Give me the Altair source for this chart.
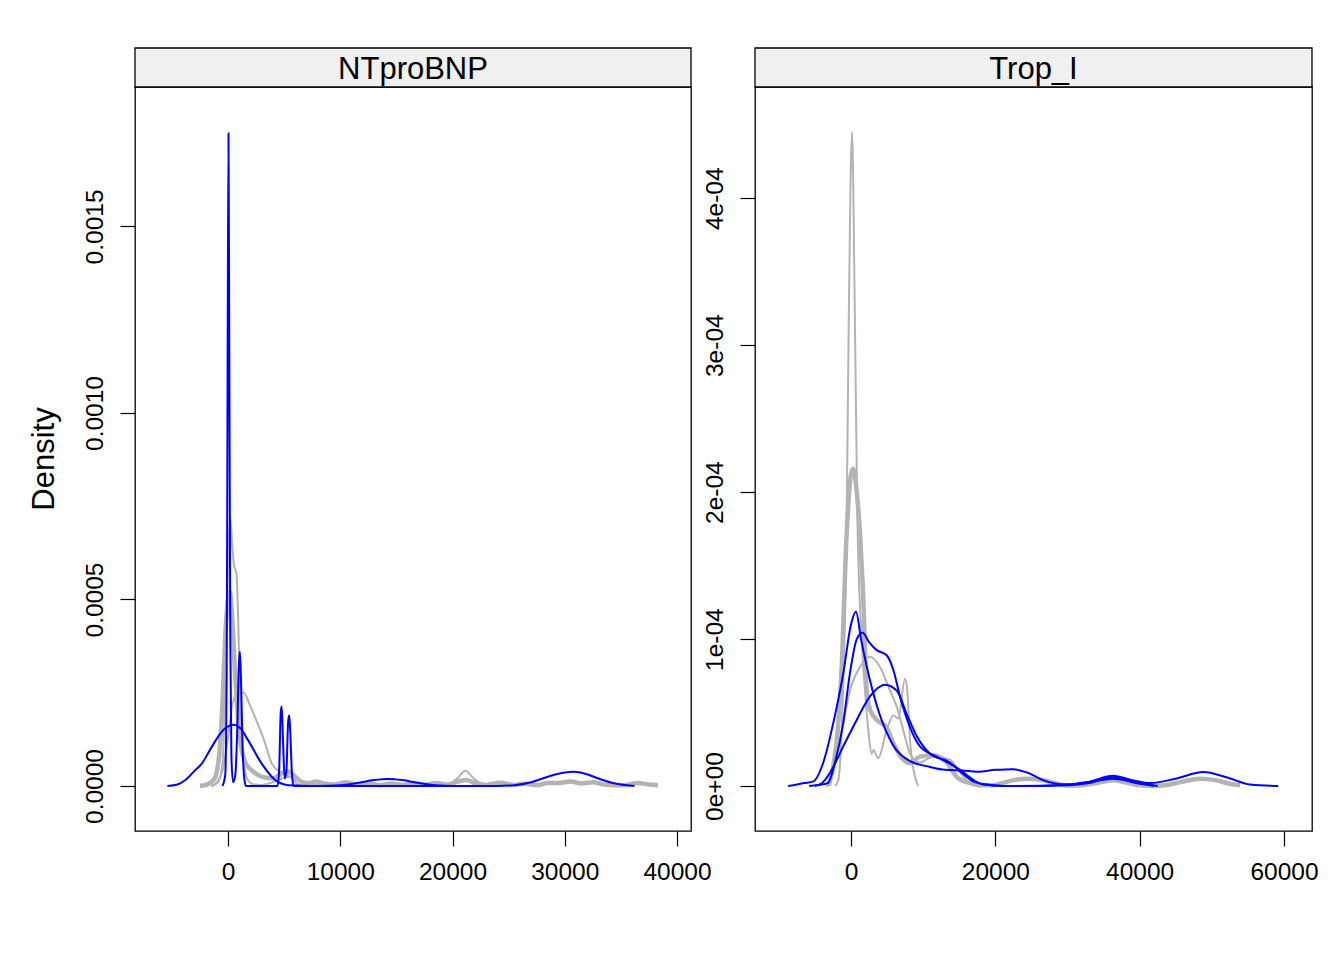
import altair as alt
import pandas as pd

PANELS = ["NTproBNP", "Trop_I"]
Y_TITLE = "Density"

# ---------------- NTproBNP panel ----------------
NT_XTICKS = [0, 10000, 20000, 30000, 40000]
NT_YTICKS = [0.0, 0.0005, 0.0010, 0.0015]
NT_YLABELS = ["0.0000", "0.0005", "0.0010", "0.0015"]

# observed (thick gray)
NT_OBS_X = [-2500, -1800, -1200, -800, -500, -250, 0, 150, 350, 600, 900, 1200, 1600, 2200, 3000,
            4000, 4600, 5200, 5800, 6500, 7200, 7800, 8600, 9500, 10500, 11500, 12500, 13500, 14500,
            15500, 16500, 17500, 18500, 19500, 20500, 21200, 22000, 23000, 24200, 25500, 26500,
            27500, 28500, 29500, 30500, 31500, 32500, 33500, 34500, 35500, 36500, 37500, 38300]
NT_OBS_Y = [0.0, 0.000005, 0.00002, 0.00008, 0.00022, 0.0004, 0.0005, 0.00052, 0.00046, 0.00032,
            0.00018, 0.0001, 0.00006, 0.00004, 0.000025, 0.00002, 0.00003, 0.00004, 0.00003,
            0.000012, 0.000008, 0.000012, 0.000006, 0.000004, 0.00001, 0.000004, 0.000008,
            0.000002, 0.000007, 0.000003, 0.000008, 0.000003, 0.000008, 0.000004, 0.000012,
            0.000016, 0.000008, 0.000003, 0.000009, 0.000003, 0.000006, 0.000002, 0.000008,
            0.000008, 0.000012, 0.000007, 0.00001, 0.000004, 0.000002, 0.000003, 0.000008,
            0.000004, 0.000002]

# imputed (thin gray)
NT_G1_X = [-1500, -900, -500, -250, 0, 200, 380, 550, 750, 900, 1100, 1350, 1700, 2200, 3000,
           4000, 4800, 5500, 6200, 7000]
NT_G1_Y = [0.0, 0.00001, 0.00006, 0.00025, 0.00058, 0.00072, 0.00064, 0.00059, 0.00057, 0.00045,
           0.00022, 0.00008, 0.00002, 0.000005, 0.000003, 0.00001, 0.00002, 0.000025, 0.000005, 0.0]
NT_G2_X = [-1500, -1000, -500, 0, 400, 900, 1400, 1900, 2400, 3300, 3900, 4800, 5500, 6500, 7500,
           9000, 12000, 15000, 18000, 19600, 20400, 21150, 21900, 22700, 23600]
NT_G2_Y = [0.0, 0.00001, 0.00004, 0.00013, 0.00022, 0.00025, 0.00025, 0.00022, 0.000185, 0.000115,
           0.00006, 0.000035, 0.000025, 0.00001, 0.000004, 0.000001, 0.0, 0.000002, 0.000001,
           0.000005, 0.00002, 0.000041, 0.00002, 0.000004, 0.0]

# imputed (blue)
NT_B1_X = [-500, -250, -120, -40, 40, 110, 200, 300, 450, 650, 820, 960, 1060, 1160, 1300, 1450,
           1600, 4400, 4550, 4700, 4780, 4900, 5050, 5200, 5350, 5450, 5550, 5700, 5850, 23700]
NT_B1_Y = [0.0, 0.00003, 0.0003, 0.0011, 0.00175, 0.0012, 0.0004, 0.00008, 0.00001, 0.00003,
           0.00015, 0.00032, 0.00036, 0.00028, 0.0001, 0.00002, 0.0, 0.0, 0.00004, 0.0002,
           0.000213, 0.00012, 0.00002, 0.00004, 0.00017, 0.00019, 0.00014, 0.00003, 0.0, 0.0]
NT_B2_X = [-5400, -4500, -3800, -3000, -2340, -1450, -420, 500, 1100, 1780, 3000, 4200, 5200,
           6500, 8000, 10000, 11500, 13000, 14300, 15500, 17000, 18500, 20000, 24000, 25500, 27000,
           28500, 30000, 30800, 31800, 33000, 34300, 35500, 36200]
NT_B2_Y = [0.0, 0.000004, 0.000016, 0.00004, 0.00006, 0.000105, 0.00015, 0.000164, 0.000155,
           0.000123, 0.00006, 0.000016, 0.000003, 0.000001, 0.0, 0.000002, 0.000008, 0.000016,
           0.000019, 0.000016, 0.000008, 0.000002, 0.0, 0.0, 0.000002, 0.00001, 0.000025,
           0.000036, 0.000038, 0.000033, 0.00002, 0.000008, 0.000002, 0.0]

# ---------------- Trop_I panel ----------------
TI_XTICKS = [0, 20000, 40000, 60000]
TI_YTICKS = [0.0, 0.0001, 0.0002, 0.0003, 0.0004]
TI_YLABELS = ["0e+00", "1e-04", "2e-04", "3e-04", "4e-04"]

TI_OBS_X = [-3400, -2600, -1800, -1290, -600, 0, 320, 800, 1250, 1660, 2170, 2630, 3560, 4940,
            5870, 7250, 8180, 9560, 11400, 13260, 14650, 16500, 18000, 19700, 21000, 22500, 24400,
            26000, 27500, 29000, 30500, 32000, 34000, 36300, 38000, 40000, 41500, 43500, 45500,
            48400, 50500, 52500, 53900]
TI_OBS_Y = [0.0, 0.00001, 0.00004, 0.000081, 0.000172, 0.000212, 0.000216, 0.0002, 0.000172,
            0.000133, 0.000065, 0.000052, 0.000045, 0.00004, 0.000029, 0.000018, 0.0000155,
            0.00002, 0.000021, 0.000016, 0.0000063, 0.000002, 0.0000005, 0.0000005, 0.000002,
            0.000004, 0.000005, 0.0000045, 0.000003, 0.000001, 0.0000002, 0.0000005, 0.000002,
            0.000004, 0.0000025, 0.0000005, 0.0000001, 0.0000005, 0.0000025, 0.000005, 0.000004,
            0.0000015, 0.0000005]

TI_G1_X = [-2200, -1760, -1200, -600, -280, 140, 510, 880, 1480, 1940, 2400, 2860, 3100, 3790,
           4940, 5870, 6560, 7480, 7800, 8180, 8870, 9330]
TI_G1_Y = [0.0, 0.000004, 0.00005, 0.000183, 0.00033, 0.000445, 0.00033, 0.000183, 0.0001,
           0.000065, 0.000038, 0.000022, 0.0000245, 0.000019, 0.000038, 0.000048, 0.000046,
           0.000073, 0.000065, 0.000031, 0.0000063, 0.0]
TI_G2_X = [-2900, -2000, -1070, -140, 1250, 2630, 4020, 5400, 6330, 7250, 8180, 9560, 10800,
           11880, 13720, 15000, 16000, 17000]
TI_G2_Y = [0.0, 0.00002, 0.000043, 0.000065, 0.000081, 0.000088, 0.000081, 0.000065, 0.000054,
           0.000038, 0.000022, 0.000016, 0.000019, 0.00002, 0.000018, 0.00001, 0.000004, 0.0]

TI_B1_X = [-8700, -7500, -6500, -5260, -3840, -2450, -1060, 0, 693, 1390, 2630, 4020, 5820, 8180,
           10950, 13000, 15500, 17500, 20000, 22450, 24500, 26600, 29900, 33000, 36300, 39000,
           41400, 45000, 48800, 52000, 55300, 59200]
TI_B1_Y = [0.0, 0.000001, 0.000002, 0.000003, 0.000016, 0.000043, 0.000077, 0.00011, 0.0001186,
           0.0001, 0.000072, 0.000048, 0.000028, 0.000017, 0.000013, 0.000011, 0.0000105,
           0.0000098, 0.000011, 0.0000115, 0.000009, 0.000004, 0.000001, 0.000003, 0.000007,
           0.000004, 0.000002, 0.000005, 0.0000095, 0.000006, 0.000001, 0.0]
TI_B2_X = [-5800, -4750, -3190, -2220, -1070, -140, 800, 1620, 2500, 3560, 4940, 5870, 6790, 8180,
           9560, 11880, 15100, 17000, 18300, 21000, 26000, 30000, 33500, 36300, 39000, 42500]
TI_B2_Y = [0.0, 0.0000005, 0.000002, 0.000016, 0.000043, 0.000077, 0.0001, 0.0001043, 0.000098,
           0.0000925, 0.000089, 0.000079, 0.000061, 0.00004, 0.000027, 0.00002, 0.000011,
           0.000004, 0.000001, 0.0, 0.0, 0.000001, 0.000003, 0.000005, 0.000003, 0.0]
TI_B3_X = [-5000, -4000, -2910, -1070, 790, 2630, 4710, 6330, 7720, 9100, 10950, 13720, 15100,
           17000, 19000, 21000, 30000, 33000, 36300, 39500, 42000]
TI_B3_Y = [0.0, 0.000002, 0.000009, 0.000027, 0.000045, 0.000061, 0.000069, 0.000065, 0.000049,
           0.000034, 0.000022, 0.000016, 0.00001, 0.000003, 0.000001, 0.0, 0.0000005, 0.000002,
           0.000006, 0.000002, 0.0]

GRAY = "#B3B3B3"
BLUE = "#0000FF"
FONT = "Liberation Sans"
PW_L, PW_R, PH = 556, 557, 744


def frame(curves):
    rows = []
    for name, xs, ys in curves:
        for i, (xv, yv) in enumerate(zip(xs, ys)):
            rows.append({"curve": name, "i": i, "x": xv, "y": yv})
    return pd.DataFrame(rows)


def panel(title, width, xdom, ydom, xticks, yticks, ylabels, obs, thin_gray, blue, with_title):
    expr = "{" + ",".join(f"'{v:.6f}':'{l}'" for v, l in zip(yticks, ylabels)) + "}[format(datum.value,'.6f')]"
    xenc = alt.X("x:Q", scale=alt.Scale(domain=xdom, nice=False, zero=False),
                 axis=alt.Axis(values=xticks, format="d", title=None, grid=False, domain=False,
                               tickSize=15, tickColor="black", tickWidth=1.2, labelColor="black",
                               labelFont=FONT, labelFontSize=24.5, labelPadding=14,
                               labelFlush=False, labelOverlap=False))
    yenc = alt.Y("y:Q", scale=alt.Scale(domain=ydom, nice=False, zero=False),
                 axis=alt.Axis(values=yticks, labelExpr=expr, title=None, grid=False,
                               domain=False, tickSize=15, tickColor="black", tickWidth=1.2,
                               labelColor="black", labelFont=FONT, labelFontSize=24.5,
                               labelAngle=-90, labelAlign="center", labelBaseline="alphabetic",
                               labelPadding=18, labelFlush=False, labelOverlap=False))

    def lines(df, color, sw):
        return alt.Chart(df).mark_line(color=color, strokeWidth=sw, interpolate="monotone",
                                        clip=True).encode(
            x=xenc, y=yenc, detail="curve:N", order="i:Q")

    strip_df = pd.DataFrame({"panel": [title]})
    strip = alt.Chart(strip_df).mark_rect(fill="#F0F0F0", stroke="black", strokeWidth=1.3).encode(
        x=alt.value(0), x2=alt.value(width), y=alt.value(-39), y2=alt.value(0))
    strip_txt = alt.Chart(strip_df).mark_text(font=FONT, fontSize=31, color="black",
                                               baseline="middle", align="center").encode(
        x=alt.value(width / 2), y=alt.value(-17.5), text="panel:N")
    layers = [lines(frame(obs), GRAY, 4.5), lines(frame(thin_gray), GRAY, 2),
              lines(frame(blue), BLUE, 2), strip, strip_txt]
    if with_title:
        ttl = alt.Chart(pd.DataFrame({"t": [Y_TITLE]})).mark_text(
            font=FONT, fontSize=31, color="black", angle=270, align="center",
            baseline="alphabetic").encode(x=alt.value(-81), y=alt.value(PH / 2), text="t:N")
        layers.append(ttl)
    return alt.layer(*layers).properties(width=width, height=PH)


left = panel(PANELS[0], PW_L, [-8288, 41244], [-0.0001206, 0.0018738], NT_XTICKS, NT_YTICKS,
             NT_YLABELS,
             [("obs", NT_OBS_X, NT_OBS_Y)],
             [("g1", NT_G1_X, NT_G1_Y), ("g2", NT_G2_X, NT_G2_Y)],
             [("b1", NT_B1_X, NT_B1_Y), ("b2", NT_B2_X, NT_B2_Y)], True)
right = panel(PANELS[1], PW_R, [-13302, 63880], [-0.0000306, 0.0004757], TI_XTICKS, TI_YTICKS,
              TI_YLABELS,
              [("obs", TI_OBS_X, TI_OBS_Y)],
              [("g1", TI_G1_X, TI_G1_Y), ("g2", TI_G2_X, TI_G2_Y)],
              [("b1", TI_B1_X, TI_B1_Y), ("b2", TI_B2_X, TI_B2_Y), ("b3", TI_B3_X, TI_B3_Y)], False)

chart = alt.hconcat(left, right, spacing=64, bounds="flush").properties(
    padding={"left": 20, "top": 38, "right": 5, "bottom": 5}
).configure(background="white").configure_view(stroke="black", strokeWidth=1.3)

chart.save("out.html", embed_options={"renderer": "svg", "actions": False})
